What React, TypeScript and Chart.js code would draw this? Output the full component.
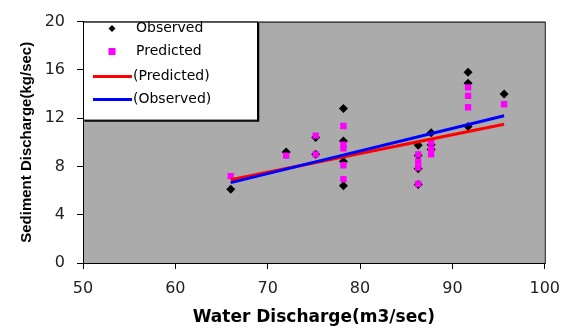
import React, { useEffect, useRef } from "react";
import { Chart, registerables } from "chart.js";

Chart.register(...registerables);

const observedX = [66.0, 72.0, 75.2, 75.2, 78.2, 78.2, 78.2, 78.2, 86.3, 86.3, 86.3, 86.3, 87.7, 87.7, 87.7, 91.7, 91.7, 91.7, 95.6];
const observedY = [6.1, 9.2, 10.4, 9.0, 12.8, 10.1, 8.4, 6.4, 9.75, 8.9, 7.8, 6.5, 10.8, 9.8, 9.4, 15.8, 14.9, 11.3, 14.0];

const predictedX = [66.0, 72.0, 75.2, 75.2, 78.2, 78.2, 78.2, 78.2, 78.2, 86.3, 86.3, 86.3, 86.3, 87.7, 87.7, 87.7, 91.7, 91.7, 91.7, 95.6];
const predictedY = [7.2, 8.9, 10.55, 9.0, 11.35, 9.8, 9.5, 8.1, 6.95, 9.0, 8.4, 7.9, 6.55, 10.0, 9.45, 9.0, 14.55, 13.85, 12.9, 13.15];

const trendX = [66.0, 95.6];
const trendPredictedY = [6.9, 11.5];
const trendObservedY = [6.66, 12.2];

const xTicks = [50, 60, 70, 80, 90, 100];
const yTicks = [0, 4, 8, 12, 16, 20];

const legendItems = [
  { label: "Observed", kind: "diamond", color: "#000000" },
  { label: "Predicted", kind: "square", color: "#FF00FF" },
  { label: "(Predicted)", kind: "line", color: "#FF0000" },
  { label: "(Observed)", kind: "line", color: "#0000FF" },
];

const pts = (xs: number[], ys: number[]) => xs.map((x, i) => ({ x, y: ys[i] }));

const plotBgPlugin = {
  id: "plotBg",
  beforeDatasetsDraw(chart: any) {
    const { ctx, chartArea } = chart;
    ctx.save();
    ctx.fillStyle = "#ABABAB";
    ctx.fillRect(chartArea.left, chartArea.top, chartArea.right - chartArea.left, chartArea.bottom - chartArea.top);
    ctx.restore();
  },
  afterDraw(chart: any) {
    const { ctx, chartArea } = chart;
    ctx.save();
    ctx.strokeStyle = "#000";
    ctx.lineWidth = 1;
    ctx.strokeRect(chartArea.left + 0.5, chartArea.top + 0.5, chartArea.right - chartArea.left, chartArea.bottom - chartArea.top);
    // legend box
    const lx = chartArea.left + 0.5;
    const ly = chartArea.top + 0.5;
    const lw = 174;
    const lh = 98;
    ctx.fillStyle = "#FFFFFF";
    ctx.fillRect(lx, ly, lw, lh);
    ctx.strokeStyle = "#000";
    ctx.lineWidth = 1;
    ctx.strokeRect(lx, ly, lw, lh);
    ctx.lineWidth = 1.5;
    ctx.beginPath();
    ctx.moveTo(lx + lw + 1, ly + 1);
    ctx.lineTo(lx + lw + 1, ly + lh + 1);
    ctx.lineTo(lx + 1, ly + lh + 1);
    ctx.stroke();
    ctx.font = "14px 'DejaVu Sans'";
    ctx.textBaseline = "middle";
    ctx.textAlign = "left";
    const rowY = [28.5, 51.5, 76.5, 99.5];
    legendItems.forEach((it, i) => {
      const y = rowY[i];
      ctx.fillStyle = it.color;
      ctx.strokeStyle = it.color;
      let tx = 136;
      if (it.kind === "diamond") {
        ctx.beginPath();
        ctx.moveTo(112, y - 3.5);
        ctx.lineTo(115.5, y);
        ctx.lineTo(112, y + 3.5);
        ctx.lineTo(108.5, y);
        ctx.closePath();
        ctx.fill();
      } else if (it.kind === "square") {
        ctx.fillRect(108.5, y - 3.5, 7, 7);
      } else {
        ctx.lineWidth = 3;
        ctx.beginPath();
        ctx.moveTo(93, y);
        ctx.lineTo(132, y);
        ctx.stroke();
        tx = 133;
      }
      ctx.fillStyle = "#000";
      ctx.fillText(it.label, tx, y);
    });
    ctx.restore();
  },
};

export default function App() {
  const ref = useRef<HTMLCanvasElement>(null);
  useEffect(() => {
    if (!ref.current) return;
    const chart = new Chart(ref.current, {
      type: "scatter",
      data: {
        datasets: [
          {
            type: "line",
            label: "(Observed)",
            data: pts(trendX, trendObservedY),
            borderColor: "#0000FF",
            borderWidth: 3,
            pointRadius: 0,
            fill: false,
            order: 0,
          } as any,
          {
            type: "line",
            label: "(Predicted)",
            data: pts(trendX, trendPredictedY),
            borderColor: "#FF0000",
            borderWidth: 3,
            pointRadius: 0,
            fill: false,
            order: 1,
          } as any,
          {
            label: "Predicted",
            data: pts(predictedX, predictedY),
            pointStyle: "rect",
            pointRadius: 4.5,
            backgroundColor: "#FF00FF",
            borderColor: "#FF00FF",
            borderWidth: 0,
            order: 2,
          },
          {
            label: "Observed",
            data: pts(observedX, observedY),
            pointStyle: "rectRot",
            pointRadius: 4.5,
            backgroundColor: "#000000",
            borderColor: "#000000",
            borderWidth: 0,
            order: 3,
          },
        ],
      },
      options: {
        animation: false,
        responsive: false,
        maintainAspectRatio: false,
        layout: { padding: { top: 16, right: 23, left: 0, bottom: 0 } },
        plugins: { legend: { display: false }, tooltip: { enabled: false } },
        scales: {
          x: {
            type: "linear",
            min: 50,
            max: 100,
            afterBuildTicks: (s: any) => {
              s.ticks = xTicks.map((v) => ({ value: v }));
            },
            afterFit: (s: any) => {
              s.height = 67;
            },
            grid: { display: true, drawOnChartArea: false, drawTicks: true, tickLength: 6, color: "#000" },
            border: { display: true, color: "#000", width: 1 },
            ticks: { color: "#222", font: { family: "'DejaVu Sans'", size: 16 }, padding: 10, maxRotation: 0 },
            title: {
              display: true,
              text: "Water Discharge(m3/sec)",
              color: "#000",
              font: { family: "'DejaVu Sans'", size: 17, weight: "bold" },
              padding: { top: 0, bottom: 2 },
            },
          },
          y: {
            type: "linear",
            min: 0,
            max: 20,
            afterBuildTicks: (s: any) => {
              s.ticks = yTicks.map((v) => ({ value: v }));
            },
            afterFit: (s: any) => {
              s.width = 83;
            },
            grid: { display: true, drawOnChartArea: false, drawTicks: true, tickLength: 6, color: "#000" },
            border: { display: true, color: "#000", width: 1 },
            ticks: { color: "#222", font: { family: "'DejaVu Sans'", size: 16 }, padding: 12 },
            title: {
              display: true,
              text: "Sediment Discharge(kg/sec)",
              color: "#000",
              font: { family: "'Liberation Sans'", size: 15, weight: "bold" },
              padding: { top: 18, bottom: 0 },
            },
          },
        },
      },
      plugins: [plotBgPlugin],
    } as any);
    return () => chart.destroy();
  }, []);
  return (
    <div style={{ position: "fixed", left: 0, top: 0, width: 570, height: 330, background: "#fff" }}>
      <canvas ref={ref} width={570} height={330} style={{ width: 570, height: 330, display: "block" }} />
    </div>
  );
}
